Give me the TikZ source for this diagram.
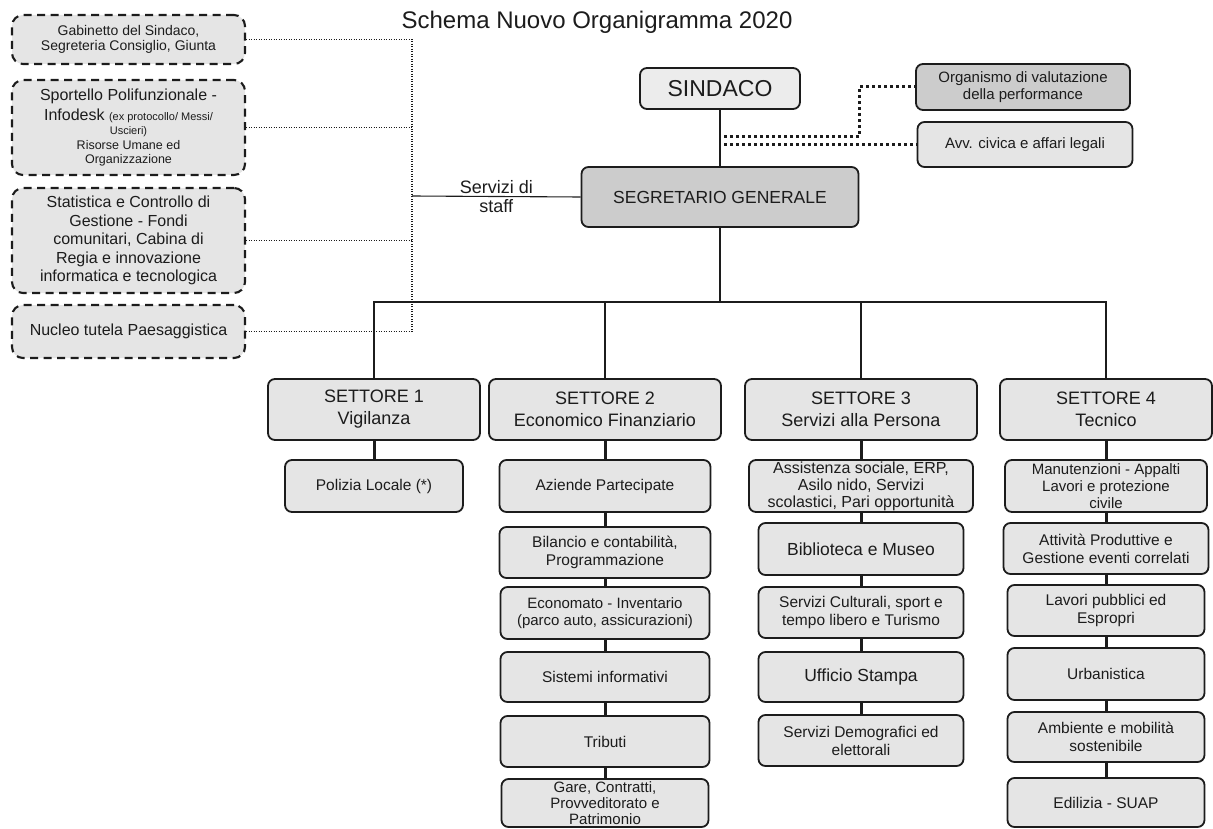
\documentclass[tikz,border=0pt]{standalone}
\usepackage{fontspec}
\setmainfont{Liberation Sans}
\newcommand{\fsz}[2]{\fontsize{#1}{#2}\selectfont}
\definecolor{boxfill}{RGB}{229,229,229}
\definecolor{toplight}{RGB}{236,236,236}
\definecolor{headfill}{RGB}{204,204,204}
\definecolor{inkline}{RGB}{28,28,28}
\tikzset{every picture/.style={line width=0.75pt},
  orgbox/.style={draw=inkline, fill=boxfill, rounded corners=7pt, line width=1.8pt, align=center, inner sep=1pt, text=inkline},
  staff/.style={orgbox, line width=2.1pt, dash pattern=on 8pt off 5.5pt, rounded corners=11pt, minimum width=233pt},
  settore/.style={orgbox, minimum height=61pt, font=\fsz{18}{22}},
  ufficio/.style={orgbox, font=\fsz{15.5}{18}},
  busline/.style={draw=inkline, line width=1.4pt},
  staffline/.style={draw=inkline, line width=1.1pt},
  chainlink/.style={draw=inkline, line width=3pt},
  staffdots/.style={draw=inkline, line width=1.1pt, dash pattern=on 1.2pt off 1.3pt},
  oivdots/.style={draw=inkline, line width=3pt, dash pattern=on 3pt off 3pt}}
\begin{document}
\begin{tikzpicture}[x=1pt,y=1pt,yscale=-1,xscale=1]
\useasboundingbox (0,0) rectangle (1213,829);
% Text Node
\node[font=\fsz{24}{27}, text=inkline] (titolo) at (597,22) {Schema Nuovo Organigramma 2020};
%Vertice
\node[orgbox, fill=toplight, minimum width=160pt, minimum height=41pt, font=\fsz{23}{26}] (sindaco) at (720,88.5) {SINDACO};
\node[orgbox, fill=headfill, minimum width=277pt, minimum height=60pt, font=\fsz{17.5}{20}] (segretario) at (720,197) {SEGRETARIO GENERALE};
\node[orgbox, fill=headfill, minimum width=214pt, minimum height=46pt, font=\fsz{15}{17.5}] (oiv) at (1023,87) {Organismo di valutazione\\della performance};
\node[orgbox, minimum width=215pt, minimum height=45pt, font=\fsz{15}{17.5}] (avv) at (1025,144.5) {Avv. civica e affari legali};
%Servizi di staff
\node[staff, minimum height=49pt, font=\fsz{14}{15.5}] (gabinetto) at (128.5,39.5) {Gabinetto del Sindaco,\\Segreteria Consiglio, Giunta};
\node[staff, minimum height=95pt, font=\fsz{16}{14.5}] (sportello) at (128.5,127.5) {Sportello Polifunzionale -\\[4pt]Infodesk {\fsz{11}{14.5}(ex protocollo/ Messi/}\\{\fsz{11}{14.5}Uscieri)}\\{\fsz{12.5}{14.5}Risorse Umane ed}\\{\fsz{12.5}{14.5}Organizzazione}};
\node[staff, minimum height=105pt, font=\fsz{16}{18.5}] (statistica) at (128.5,240.5) {Statistica e Controllo di\\Gestione - Fondi\\comunitari, Cabina di\\Regia e innovazione\\informatica e tecnologica};
\node[staff, minimum height=53pt, font=\fsz{16}{18.5}] (nucleo) at (128.5,331.5) {Nucleo tutela Paesaggistica};
\coordinate (staffv) at (412,196);
\draw[staffdots] (gabinetto.east) -| (staffv);
\draw[staffdots] (nucleo.east) -| (staffv);
\draw[staffdots] (sportello.east) -- (sportello.east -| staffv);
\draw[staffdots] (statistica.east) -- (statistica.east -| staffv);
\draw[staffline] (staffv) -- (segretario.west) node[midway, font=\fsz{18}{19.5}, align=center, text=inkline] {Servizi di\\staff};
%Sindaco - Segretario
\draw[busline] (sindaco) -- (segretario);
\coordinate (oivstart) at (724,137);
\coordinate (avvstart) at (724,144.5);
\draw[oivdots] (oivstart) -- ++(135,0) |- (oiv.west);
\draw[oivdots] (avvstart) -- (avv.west);
%Settori
\node[settore, minimum width=212pt] (s1) at (374,409.5) {SETTORE 1\\Vigilanza};
\node[settore, minimum width=232pt] (s2) at (605,409.5) {SETTORE 2\\Economico Finanziario};
\node[settore, minimum width=232pt] (s3) at (861,409.5) {SETTORE 3\\Servizi alla Persona};
\node[settore, minimum width=212pt] (s4) at (1106,409.5) {SETTORE 4\\Tecnico};
\coordinate (bus) at (720,302);
\draw[busline] (segretario) -- (bus);
\foreach \s in {s1,s2,s3,s4} \draw[busline] (bus) -| (\s.north);
%Settore 1
\node[ufficio, minimum width=178pt, minimum height=52pt] (polizia) at (374,486) {Polizia Locale (*)};
%Settore 2
\node[ufficio, minimum width=211pt, minimum height=52pt] (aziende) at (605,486) {Aziende Partecipate};
\node[ufficio, minimum width=211pt, minimum height=51pt] (bilancio) at (605,552.5) {Bilancio e contabilità,\\Programmazione};
\node[ufficio, minimum width=209pt, minimum height=52pt, font=\fsz{15}{17.5}] (economato) at (605,613) {Economato - Inventario\\(parco auto, assicurazioni)};
\node[ufficio, minimum width=209pt, minimum height=50pt] (sistemi) at (605,677) {Sistemi informativi};
\node[ufficio, minimum width=209pt, minimum height=51pt] (tributi) at (605,741.5) {Tributi};
\node[ufficio, minimum width=207pt, minimum height=48pt, font=\fsz{15}{16}] (gare) at (605,803) {Gare, Contratti,\\Provveditorato e\\Patrimonio};
%Settore 3
\node[ufficio, minimum width=224pt, minimum height=52pt, font=\fsz{16}{17}] (assistenza) at (861,486) {Assistenza sociale, ERP,\\Asilo nido, Servizi\\scolastici, Pari opportunità};
\node[ufficio, minimum width=205pt, minimum height=52pt, font=\fsz{17.5}{20}] (biblioteca) at (861,549) {Biblioteca e Museo};
\node[ufficio, minimum width=205pt, minimum height=51pt] (culturali) at (861,612.5) {Servizi Culturali, sport e\\tempo libero e Turismo};
\node[ufficio, minimum width=205pt, minimum height=50pt, font=\fsz{17.5}{20}] (stampa) at (861,677) {Ufficio Stampa};
\node[ufficio, minimum width=205pt, minimum height=51pt] (demografici) at (861,740.5) {Servizi Demografici ed\\elettorali};
%Settore 4
\node[ufficio, minimum width=202pt, minimum height=52pt, font=\fsz{15}{17}] (manutenzioni) at (1106,486) {Manutenzioni - Appalti\\Lavori e protezione\\civile};
\node[ufficio, minimum width=205pt, minimum height=51pt] (attivita) at (1106,548.5) {Attività Produttive e\\Gestione eventi correlati};
\node[ufficio, minimum width=197pt, minimum height=51pt] (lavori) at (1106,610.5) {Lavori pubblici ed\\Espropri};
\node[ufficio, minimum width=197pt, minimum height=52pt] (urbanistica) at (1106,674) {Urbanistica};
\node[ufficio, minimum width=197pt, minimum height=50pt] (ambiente) at (1106,737) {Ambiente e mobilità\\sostenibile};
\node[ufficio, minimum width=197pt, minimum height=49pt] (edilizia) at (1106,802.5) {Edilizia - SUAP};
%Collegamenti uffici
\draw[chainlink] (s1) -- (polizia);
\draw[chainlink] (s2) -- (aziende) -- (bilancio) -- (economato) -- (sistemi) -- (tributi) -- (gare);
\draw[chainlink] (s3) -- (assistenza) -- (biblioteca) -- (culturali) -- (stampa) -- (demografici);
\draw[chainlink] (s4) -- (manutenzioni) -- (attivita) -- (lavori) -- (urbanistica) -- (ambiente) -- (edilizia);
\end{tikzpicture}
\end{document}
